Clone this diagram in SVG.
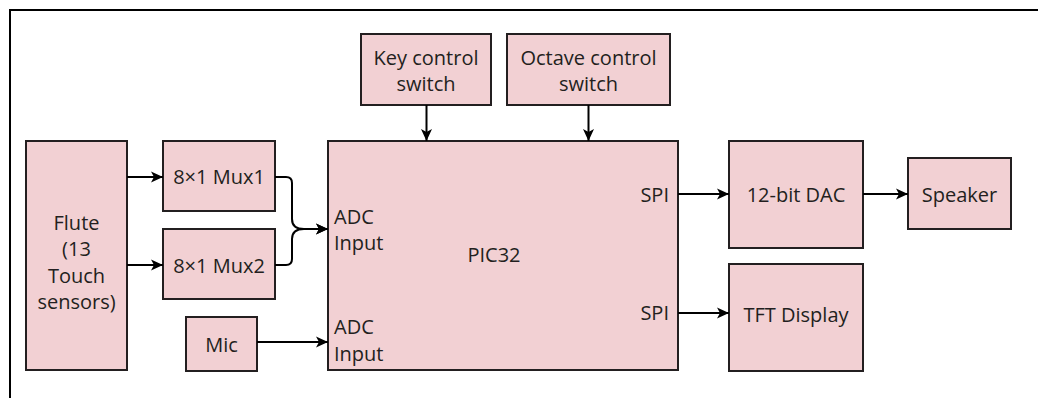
<svg xmlns="http://www.w3.org/2000/svg" width="1038" height="398" viewBox="0 0 1038 398">
<defs>
<style>
.box{fill:#F2D0D3;stroke:#231F20;stroke-width:2}
.t{font-family:"Open Sans","Noto Sans",sans-serif;font-size:20px;fill:#231F20}
.m{text-anchor:middle}
.c{fill:none;stroke:#000;stroke-width:2;marker-end:url(#ah)}
.frame{fill:none;stroke:#000;stroke-width:2}
</style>
<marker id="ah" viewBox="0 0 12 12" refX="12" refY="6" markerWidth="12" markerHeight="12" markerUnits="userSpaceOnUse" orient="auto">
<path d="M0,0.5 L12,6 L0,11.5 L3,6 Z" fill="#000"/>
</marker>
</defs>
<rect width="1038" height="398" fill="#fff"/>
<path class="frame" d="M10,398 V10 H1038"/>

<g id="key-switch">
<rect class="box" x="361" y="34" width="130" height="71"/>
<text class="t m" x="426" y="65">Key control</text>
<text class="t m" x="426" y="91">switch</text>
</g>
<g id="octave-switch">
<rect class="box" x="507" y="34" width="163" height="71"/>
<text class="t m" x="588.5" y="65">Octave control</text>
<text class="t m" x="588.5" y="91">switch</text>
</g>
<g id="flute">
<rect class="box" x="26" y="141" width="101" height="229"/>
<text class="t m" x="76.5" y="230">Flute</text>
<text class="t m" x="76.5" y="256">(13</text>
<text class="t m" x="76.5" y="282.5">Touch</text>
<text class="t m" x="76.5" y="309">sensors)</text>
</g>
<g id="mux1">
<rect class="box" x="163" y="141" width="112" height="70"/>
<text class="t m" x="219" y="184">8×1 Mux1</text>
</g>
<g id="mux2">
<rect class="box" x="163" y="229" width="112" height="70"/>
<text class="t m" x="219" y="272.5">8×1 Mux2</text>
</g>
<g id="mic">
<rect class="box" x="186" y="317" width="71" height="54"/>
<text class="t m" x="221.5" y="351.5">Mic</text>
</g>
<g id="pic32">
<rect class="box" x="328" y="141" width="350" height="229"/>
<text class="t" x="334" y="224">ADC</text>
<text class="t" x="334" y="250">Input</text>
<text class="t" x="334" y="334">ADC</text>
<text class="t" x="334" y="361">Input</text>
<text class="t m" x="494" y="262">PIC32</text>
<text class="t" x="669" y="201.5" text-anchor="end">SPI</text>
<text class="t" x="669" y="320" text-anchor="end">SPI</text>
</g>
<g id="dac">
<rect class="box" x="729" y="141" width="134" height="107"/>
<text class="t m" x="796" y="201.5">12-bit DAC</text>
</g>
<g id="tft">
<rect class="box" x="729" y="264" width="134" height="107"/>
<text class="t m" x="796" y="321.5">TFT Display</text>
</g>
<g id="speaker">
<rect class="box" x="908" y="158" width="103" height="71"/>
<text class="t m" x="959.5" y="201.5">Speaker</text>
</g>

<g id="connectors">
<path class="c" d="M426.5,105 V141"/>
<path class="c" d="M588.5,105 V141"/>
<path class="c" d="M127,177 H163"/>
<path class="c" d="M127,265 H163"/>
<path class="c" d="M275,177 H286 Q292,177 292,183 V219 Q292,229 304,229 H328"/>
<path class="c" d="M275,265 H286 Q292,265 292,259 V239 Q292,229 304,229 H328"/>
<path class="c" d="M257,342 H328"/>
<path class="c" d="M678,194 H729"/>
<path class="c" d="M863,194 H908"/>
<path class="c" d="M678,313 H729"/>
</g>
</svg>
